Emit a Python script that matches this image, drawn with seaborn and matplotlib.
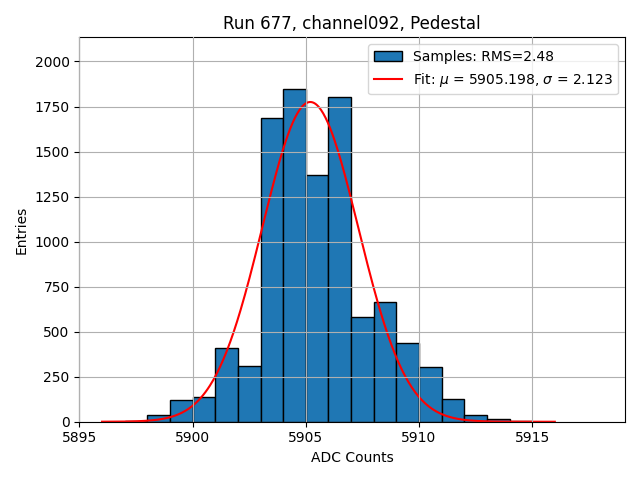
import numpy as np
import pandas as pd
import matplotlib
matplotlib.use("Agg")
import matplotlib.pyplot as plt
import seaborn as sns

# Data
bin_edges = list(range(5896, 5917))
counts = [1, 5, 35, 118, 136, 410, 311, 1686, 1847, 1371, 1803, 584, 667, 437, 303, 124, 37, 13, 3, 1]
fit_mu = 5905.198
fit_sigma = 2.123
fit_amp = 1775
rms = 2.48
title = "Run 677, channel092, Pedestal"

centers = [(a + b) / 2 for a, b in zip(bin_edges[:-1], bin_edges[1:])]
df = pd.DataFrame({"adc": centers, "n": counts})

fig, ax = plt.subplots(figsize=(6.4, 4.8), dpi=100)
sns.histplot(data=df, x="adc", weights="n", bins=bin_edges, ax=ax,
             color="#1f77b4", edgecolor="black", linewidth=1.0, alpha=1.0,
             label=f"Samples: RMS={rms:.2f}")

xf = np.linspace(bin_edges[0], bin_edges[-1], 400)
yf = fit_amp * np.exp(-0.5 * ((xf - fit_mu) / fit_sigma) ** 2)
sns.lineplot(x=xf, y=yf, ax=ax, color="red", linewidth=1.5,
             label=f"Fit: $\\mu$ = {fit_mu:.3f}, $\\sigma$ = {fit_sigma:.3f}")

ax.set_xlim(5895, 5919.1)
ax.set_ylim(0, 2134)
ax.grid(True, color="#b0b0b0", linewidth=0.8)
ax.set_axisbelow(False)
ax.set_xlabel("ADC Counts")
ax.set_ylabel("Entries")
ax.set_title(title)
handles, labels = ax.get_legend_handles_labels()
order = [labels.index(l) for l in labels if l.startswith("Samples")] + \
        [labels.index(l) for l in labels if l.startswith("Fit")]
ax.legend([handles[i] for i in order], [labels[i] for i in order], loc="upper right")
fig.tight_layout()
fig.savefig("out.png", dpi=100)
